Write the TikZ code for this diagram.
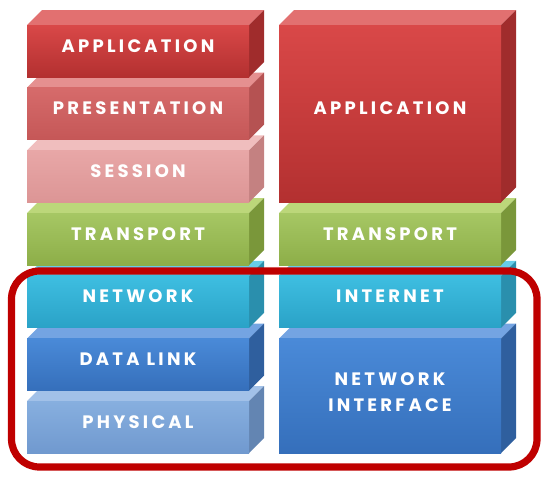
\documentclass[tikz,border=0pt]{standalone}
\usepackage{fontspec}
\newfontfamily\layerfont{Poppins}[LetterSpace=18]
\begin{document}
\begin{tikzpicture}[x=0.75pt,y=-0.75pt,
  layerlabel/.style={text=white,font=\layerfont\bfseries\fontsize{13.5}{16}\selectfont,align=center,inner sep=0pt},
  bracket/.style={draw=red!75!black,line width=5.4pt,rounded corners=21pt}]
\useasboundingbox (0,0) rectangle (552,480);
% one layer block: #1 left x, #2 front-top y, #3 width, #4 front height,
% #5/#6 front gradient (top/bottom), #7 top face, #8 side face
\newcommand\layerblock[8]{%
  \fill[#7] (#1,#2) -- ++(15,-15) -- ++(#3,0) -- ++(-15,15) -- cycle;
  \fill[#8] (#1+#3,#2) -- ++(15,-15) -- ++(0,#4) -- ++(-15,15) -- cycle;
  \shade[top color=#5,bottom color=#6] (#1,#2) rectangle ++(#3,#4);
}
\definecolor{appF}{HTML}{D94848}\definecolor{appB}{HTML}{B33030}
\definecolor{appT}{HTML}{E27070}\definecolor{appS}{HTML}{A02C2C}
\definecolor{preF}{HTML}{D66B6B}\definecolor{preB}{HTML}{C55757}
\definecolor{preT}{HTML}{E59090}\definecolor{preS}{HTML}{B55252}
\definecolor{sesF}{HTML}{E8A7A7}\definecolor{sesB}{HTML}{DC9595}
\definecolor{sesT}{HTML}{F0BEBE}\definecolor{sesS}{HTML}{C48181}
\definecolor{traF}{HTML}{A6C764}\definecolor{traB}{HTML}{8DAE48}
\definecolor{traT}{HTML}{BCD77A}\definecolor{traS}{HTML}{7A973A}
\definecolor{netF}{HTML}{3EBEE1}\definecolor{netB}{HTML}{2AA2C7}
\definecolor{netT}{HTML}{66CDEA}\definecolor{netS}{HTML}{2A8FAD}
\definecolor{dlkF}{HTML}{4A8AD8}\definecolor{dlkB}{HTML}{356FBB}
\definecolor{dlkT}{HTML}{74A4E2}\definecolor{dlkS}{HTML}{2F5F9E}
\definecolor{phyF}{HTML}{87AFDF}\definecolor{phyB}{HTML}{7099CF}
\definecolor{phyT}{HTML}{A2C1E8}\definecolor{phyS}{HTML}{6385B2}

% OSI stack (drawn bottom-up so upper blocks overlap)
\layerblock{27}{401.2}{222}{52}{phyF}{phyB}{phyT}{phyS}
\layerblock{27}{338.5}{222}{52}{dlkF}{dlkB}{dlkT}{dlkS}
\layerblock{27}{275.8}{222}{52}{netF}{netB}{netT}{netS}
\layerblock{27}{213.1}{222}{52}{traF}{traB}{traT}{traS}
\layerblock{27}{150.4}{222}{52}{sesF}{sesB}{sesT}{sesS}
\layerblock{27}{87.7}{222}{52}{preF}{preB}{preT}{preS}
\layerblock{27}{25}{222}{52}{appF}{appB}{appT}{appS}

% TCP/IP stack
\layerblock{279}{338.5}{222}{114.7}{dlkF}{dlkB}{dlkT}{dlkS}
\layerblock{279}{275.8}{222}{52}{netF}{netB}{netT}{netS}
\layerblock{279}{213.1}{222}{52}{traF}{traB}{traT}{traS}
\layerblock{279}{25}{222}{177.4}{appF}{appB}{appT}{appS}

\node[layerlabel] (osiApp)  at (138,46)  {APPLICATION};
\node[layerlabel] (osiPres) at (138,108) {PRESENTATION};
\node[layerlabel] (osiSes)  at (138,171) {SESSION};
\node[layerlabel] (osiTra)  at (138,234) {TRANSPORT};
\node[layerlabel] (osiNet)  at (138,296) {NETWORK};
\node[layerlabel] (osiDl)   at (138,359) {DATA LINK};
\node[layerlabel] (osiPhy)  at (138,422) {PHYSICAL};

\node[layerlabel] (tcpApp)  at (390,108) {APPLICATION};
\node[layerlabel] (tcpTra)  at (390,234) {TRANSPORT};
\node[layerlabel] (tcpNet)  at (390,296) {INTERNET};
\node[layerlabel] (tcpIf)   at (390,392) {NETWORK\\[3pt]INTERFACE};

% frame around the lower layers
\draw[bracket] (11.5,271) rectangle (537,467);
\end{tikzpicture}
\end{document}
